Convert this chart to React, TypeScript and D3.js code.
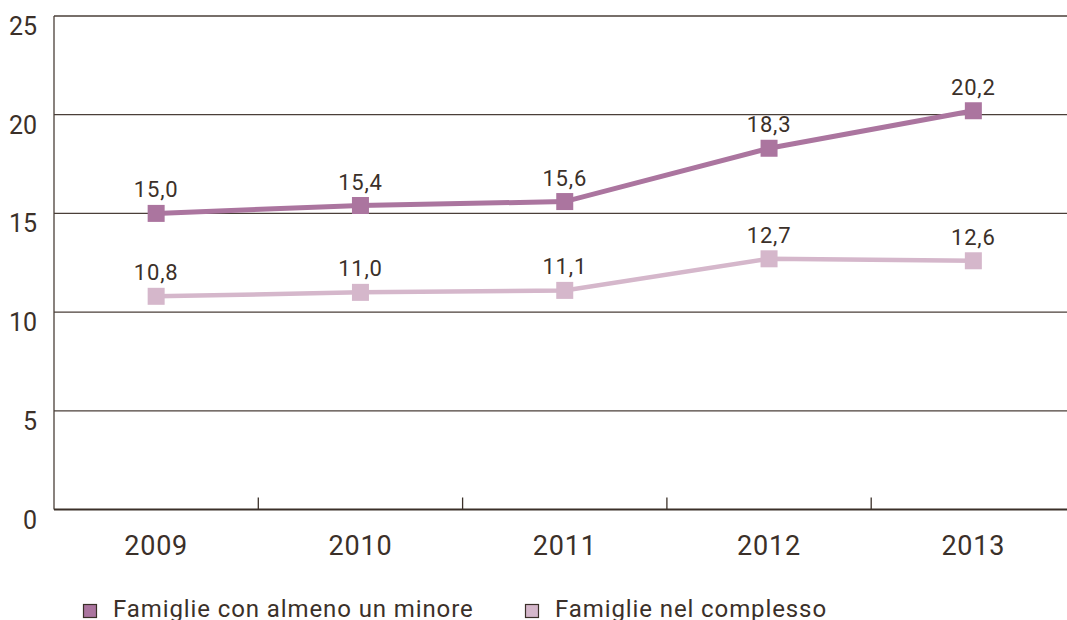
import React from "react";
import * as d3 from "d3";

const years = ["2009", "2010", "2011", "2012", "2013"];
const minoriValues = [15.0, 15.4, 15.6, 18.3, 20.2];
const complessoValues = [10.8, 11.0, 11.1, 12.7, 12.6];
const yTicks = [0, 5, 10, 15, 20, 25];
const seriesNames = ["Famiglie con almeno un minore", "Famiglie nel complesso"];
const seriesColors = ["#ab759f", "#d5b7cb"];

const W = 1067;
const H = 620;
const left = 54;
const top = 16;
const bottom = 509.5;
const textColor = "#3b3029";
const font = "Roboto, 'DejaVu Sans', sans-serif";

export default function App() {
  const x = d3.scaleBand<string>().domain(years).range([left, left + 204.3 * 5]).padding(0);
  const y = d3.scaleLinear().domain([0, 25]).range([bottom, top]);
  const cx = (d: string) => (x(d) as number) + x.bandwidth() / 2;
  const fmt = (v: number) => v.toFixed(1).replace(".", ",");

  const series = [minoriValues, complessoValues];
  const lineGen = d3
    .line<number>()
    .x((_, i) => cx(years[i]))
    .y((v) => y(v));

  const order = [1, 0];

  return (
    <svg
      width={W}
      height={H}
      style={{ position: "absolute", left: 0, top: 0, background: "#fff" }}
      fontFamily={font}
      fontWeight={400}
    >
      {/* gridlines */}
      {yTicks
        .filter((t) => t > 0)
        .map((t) => (
          <line key={t} x1={left} x2={W} y1={y(t)} y2={y(t)} stroke="#4a3f38" strokeWidth={1.3} />
        ))}
      {/* y axis */}
      <line x1={left} x2={left} y1={top} y2={bottom} stroke="#4a3f38" strokeWidth={1.3} />
      {/* x axis */}
      <line x1={left} x2={W} y1={bottom} y2={bottom} stroke="#3b3029" strokeWidth={2} />
      {years.slice(1).map((yr) => (
        <line
          key={yr}
          x1={x(yr) as number}
          x2={x(yr) as number}
          y1={bottom}
          y2={bottom - 12}
          stroke="#3b3029"
          strokeWidth={1.3}
        />
      ))}
      {/* y labels */}
      {yTicks.map((t) => (
        <text key={t} x={37} y={y(t) + 19} textAnchor="end" fontSize={25} fill={textColor}>
          {t}
        </text>
      ))}
      {/* x labels */}
      {years.map((yr) => (
        <text
          key={yr}
          x={cx(yr)}
          y={555}
          textAnchor="middle"
          fontSize={27}
          letterSpacing={0.8}
          fill={textColor}
        >
          {yr}
        </text>
      ))}
      {/* series */}
      {order.map((si) => (
        <g key={si}>
          <path
            d={lineGen(series[si]) as string}
            fill="none"
            stroke={seriesColors[si]}
            strokeWidth={si === 0 ? 5 : 4.5}
          />
          {series[si].map((v, i) => (
            <rect
              key={i}
              x={cx(years[i]) - 8.5}
              y={y(v) - 8.5}
              width={17}
              height={17}
              fill={seriesColors[si]}
            />
          ))}
          {series[si].map((v, i) => (
            <text
              key={"t" + i}
              x={cx(years[i])}
              y={y(v) - 16}
              textAnchor="middle"
              fontSize={22}
              letterSpacing={0.8}
              fill={textColor}
            >
              {fmt(v)}
            </text>
          ))}
        </g>
      ))}
      {/* legend */}
      {seriesNames.map((name, i) => {
        const lx = i === 0 ? 83 : 525;
        return (
          <g key={name}>
            <rect
              x={lx + 0.5}
              y={604.5}
              width={13}
              height={13}
              fill={seriesColors[i]}
              stroke="#3b3029"
              strokeWidth={1.2}
            />
            <text x={lx + 30} y={617} fontSize={24} letterSpacing={0.9} fill={textColor}>
              {name}
            </text>
          </g>
        );
      })}
    </svg>
  );
}
